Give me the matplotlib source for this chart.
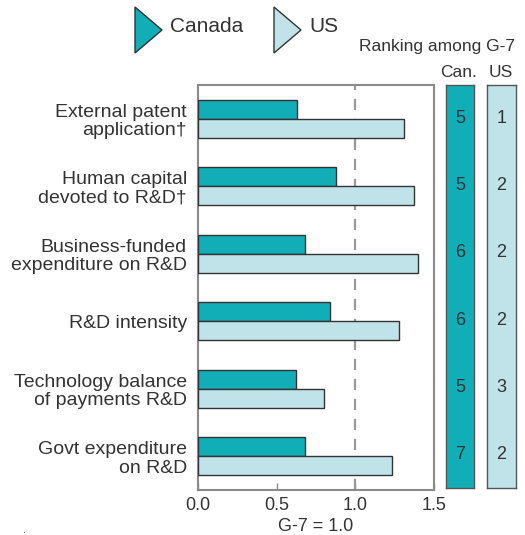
import matplotlib.pyplot as plt
from matplotlib.patches import Polygon

plt.rcParams['font.family'] = ['Liberation Sans', 'DejaVu Sans']

LABELS = ["External patent\napplication\u2020", "Human capital\ndevoted to R&D\u2020",
          "Business-funded\nexpenditure on R&D", "R&D intensity",
          "Technology balance\nof payments R&D", "Govt expenditure\non R&D"]
CANADA = [0.63, 0.88, 0.68, 0.84, 0.62, 0.68]
US = [1.31, 1.37, 1.40, 1.28, 0.80, 1.23]
RANK_CAN = [5, 5, 6, 6, 5, 7]
RANK_US = [1, 2, 2, 2, 3, 2]
XTICKS = [0.0, 0.5, 1.0, 1.5]

C_CAN = '#12aeb8'
C_US = '#bfe3e8'
TXT = '#333333'
EDGE = '#8a8a8a'
W, H = 525, 535

fig = plt.figure(figsize=(W / 100, H / 100), dpi=100)

def box(x0, y0, x1, y1):
    # pixel coords from top-left -> figure fraction rect
    return [x0 / W, 1 - y1 / H, (x1 - x0) / W, (y1 - y0) / H]

ax = fig.add_axes(box(198, 85, 434, 490))
ypos = list(range(len(LABELS)))
bh = 0.28
ax.barh([y - bh / 2 for y in ypos], CANADA, height=bh, color=C_CAN,
        edgecolor='#333333', linewidth=1, zorder=3)
ax.barh([y + bh / 2 for y in ypos], US, height=bh, color=C_US,
        edgecolor='#333333', linewidth=1, zorder=3)
ax.axvline(1.0, color='#999999', linestyle=(0, (5, 4)), linewidth=1.6, zorder=2)
ax.set_xlim(0, 1.5)
ax.set_ylim(len(LABELS) - 0.5, -0.5)
ax.set_yticks(ypos)
ax.set_yticklabels(LABELS, fontsize=14, color=TXT, linespacing=1.1)
ax.tick_params(axis='y', length=0, pad=8)
ax.set_xticks(XTICKS)
ax.set_xticklabels([f"{t:.1f}" for t in XTICKS], fontsize=13, color=TXT)
ax.tick_params(axis='x', direction='in', length=5, width=1, color=EDGE, pad=5)
ax.set_xlabel("G-7 = 1.0", fontsize=13, color=TXT, labelpad=3)
for s in ax.spines.values():
    s.set_color(EDGE)
    s.set_linewidth(1.5)

# ranking panels
for (x0, x1), ranks, col in [((446, 474), RANK_CAN, C_CAN), ((487, 516), RANK_US, C_US)]:
    rax = fig.add_axes(box(x0, 85, x1, 488))
    rax.set_facecolor(col)
    rax.set_xlim(0, 1)
    rax.set_ylim(len(ranks) - 0.5, -0.5)
    rax.set_xticks([])
    rax.set_yticks([])
    for s in rax.spines.values():
        s.set_color('#555555')
        s.set_linewidth(1)
    for y, r in zip(ypos, ranks):
        rax.text(0.5, y, str(r), ha='center', va='center', fontsize=13, color=TXT)

fig.text(515 / W, 1 - 47 / H, "Ranking among G-7", ha='right', va='center', fontsize=12.5, color=TXT)
fig.text(459 / W, 1 - 72 / H, "Can.", ha='center', va='center', fontsize=12.5, color=TXT)
fig.text(501 / W, 1 - 72 / H, "US", ha='center', va='center', fontsize=12.5, color=TXT)

# legend triangles
for x0, col, name in [(135, C_CAN, "Canada"), (274, C_US, "US")]:
    pts = [(x0 / W, 1 - 7 / H), (x0 / W, 1 - 53 / H), ((x0 + 27) / W, 1 - 30 / H)]
    fig.add_artist(Polygon(pts, closed=True, facecolor=col, edgecolor='#333333',
                           linewidth=1, transform=fig.transFigure))
    fig.text((x0 + 35) / W, 1 - 26 / H, name, ha='left', va='center', fontsize=15, color=TXT)

fig.text(25 / W, 1 - 530 / H, ".", fontsize=8, color=TXT, ha='center', va='center')

fig.savefig("out.png", dpi=100)
